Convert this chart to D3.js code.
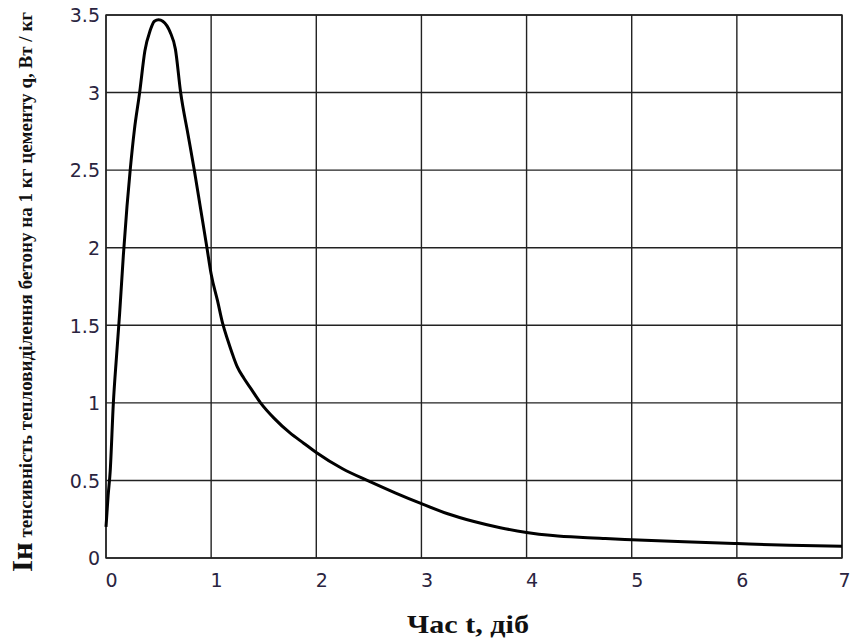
<!DOCTYPE html>
<html>
<head>
<meta charset="utf-8">
<script src="https://cdn.jsdelivr.net/npm/d3@7"></script>
<style>
  body { margin: 0; background: #fff; }
  svg { display: block; }
</style>
</head>
<body>
<div id="chart"></div>
<script>
// Heat release of concrete per 1 kg of cement vs time
const days = [0, 0.004, 0.02, 0.04, 0.07, 0.1, 0.13, 0.165, 0.2, 0.23, 0.27, 0.32, 0.37, 0.42, 0.46, 0.5,
  0.54, 0.58, 0.61, 0.66, 0.71, 0.78, 0.84, 0.9, 0.96, 1.0, 1.06, 1.11, 1.16, 1.21, 1.25, 1.31, 1.38, 1.47,
  1.6, 1.75, 1.88, 2.0, 2.25, 2.5, 2.75, 3.0, 3.25, 3.5, 3.75, 4.0, 4.25, 4.5, 4.75, 5.0, 5.5, 6.0, 6.5, 7.0];
const heat = [0.2, 0.24, 0.4, 0.56, 1.0, 1.3, 1.58, 1.95, 2.27, 2.5, 2.76, 3.0, 3.27, 3.4, 3.46, 3.47,
  3.46, 3.43, 3.39, 3.28, 3.0, 2.73, 2.5, 2.25, 2.0, 1.83, 1.66, 1.51, 1.4, 1.3, 1.23, 1.16, 1.09, 1.0,
  0.9, 0.806, 0.74, 0.68, 0.575, 0.495, 0.42, 0.35, 0.285, 0.235, 0.195, 0.165, 0.145, 0.133, 0.125, 0.118, 0.105, 0.093, 0.082, 0.075];
const xTicks = [0, 1, 2, 3, 4, 5, 6, 7];
const yTicks = [0, 0.5, 1, 1.5, 2, 2.5, 3, 3.5];

const W = 851, H = 644;
const margin = { top: 15, right: 9, bottom: 86, left: 106 };
const width = W - margin.left - margin.right;
const height = H - margin.top - margin.bottom;

const svg = d3.select("#chart").append("svg")
  .attr("width", W)
  .attr("height", H);

const g = svg.append("g")
  .attr("transform", `translate(${margin.left},${margin.top})`);

const x = d3.scaleLinear().domain([0, 7]).range([0, width]);
const y = d3.scaleLinear().domain([0, 3.5]).range([height, 0]);

// grid
g.append("g")
  .selectAll("line")
  .data(xTicks)
  .join("line")
  .attr("x1", d => x(d)).attr("x2", d => x(d))
  .attr("y1", 0).attr("y2", height)
  .attr("stroke", "#222").attr("stroke-width", 1.4);

g.append("g")
  .selectAll("line")
  .data(yTicks)
  .join("line")
  .attr("x1", 0).attr("x2", width)
  .attr("y1", d => y(d)).attr("y2", d => y(d))
  .attr("stroke", "#222").attr("stroke-width", 1.4);

g.append("rect")
  .attr("width", width).attr("height", height)
  .attr("fill", "none").attr("stroke", "#222").attr("stroke-width", 1.4);

// axes labels (no tick marks, just numbers)
const fmt = d => String(d);
const xAxis = d3.axisBottom(x).tickValues(xTicks).tickFormat(fmt).tickSize(0).tickPadding(16);
const yAxis = d3.axisLeft(y).tickValues(yTicks).tickFormat(fmt).tickSize(0).tickPadding(6);

const gx = g.append("g").attr("transform", `translate(0,${height})`).call(xAxis);
const gy = g.append("g").call(yAxis);
[gx, gy].forEach(a => {
  a.select(".domain").remove();
  a.selectAll("text")
    .attr("font-family", "DejaVu Sans, Verdana, sans-serif")
    .attr("font-size", 19)
    .attr("fill", "#2a2440");
});
gx.selectAll("text").attr("dx", d => d === 7 ? 2 : 5);
gy.selectAll("text").attr("dy", "0.36em");

// curve
const pts = days.map((d, i) => [d, heat[i]]);
g.append("path")
  .datum(pts)
  .attr("fill", "none")
  .attr("stroke", "#000")
  .attr("stroke-width", 3)
  .attr("stroke-linejoin", "round")
  .attr("d", d3.line().x(d => x(d[0])).y(d => y(d[1])).curve(d3.curveMonotoneX));

// axis titles
svg.append("text")
  .attr("x", 468).attr("y", 633)
  .attr("text-anchor", "middle")
  .attr("font-family", "Liberation Serif, Times New Roman, serif")
  .attr("font-weight", "bold")
  .attr("font-size", 26)
  .attr("fill", "#111")
  .attr("textLength", 122)
  .attr("lengthAdjust", "spacingAndGlyphs")
  .text("Час t, діб");

const yt = svg.append("text")
  .attr("transform", "translate(32,292) rotate(-90)")
  .attr("text-anchor", "middle")
  .attr("font-family", "Liberation Serif, Times New Roman, serif")
  .attr("font-weight", "bold")
  .attr("fill", "#111")
  .attr("textLength", 560)
  .attr("lengthAdjust", "spacingAndGlyphs");
yt.append("tspan").attr("font-size", 29).text("Ін");
yt.append("tspan").attr("font-size", 18).text(" тенсивність тепловиділення бетону на 1 кг цементу q, Вт / кг");
</script>
</body>
</html>
